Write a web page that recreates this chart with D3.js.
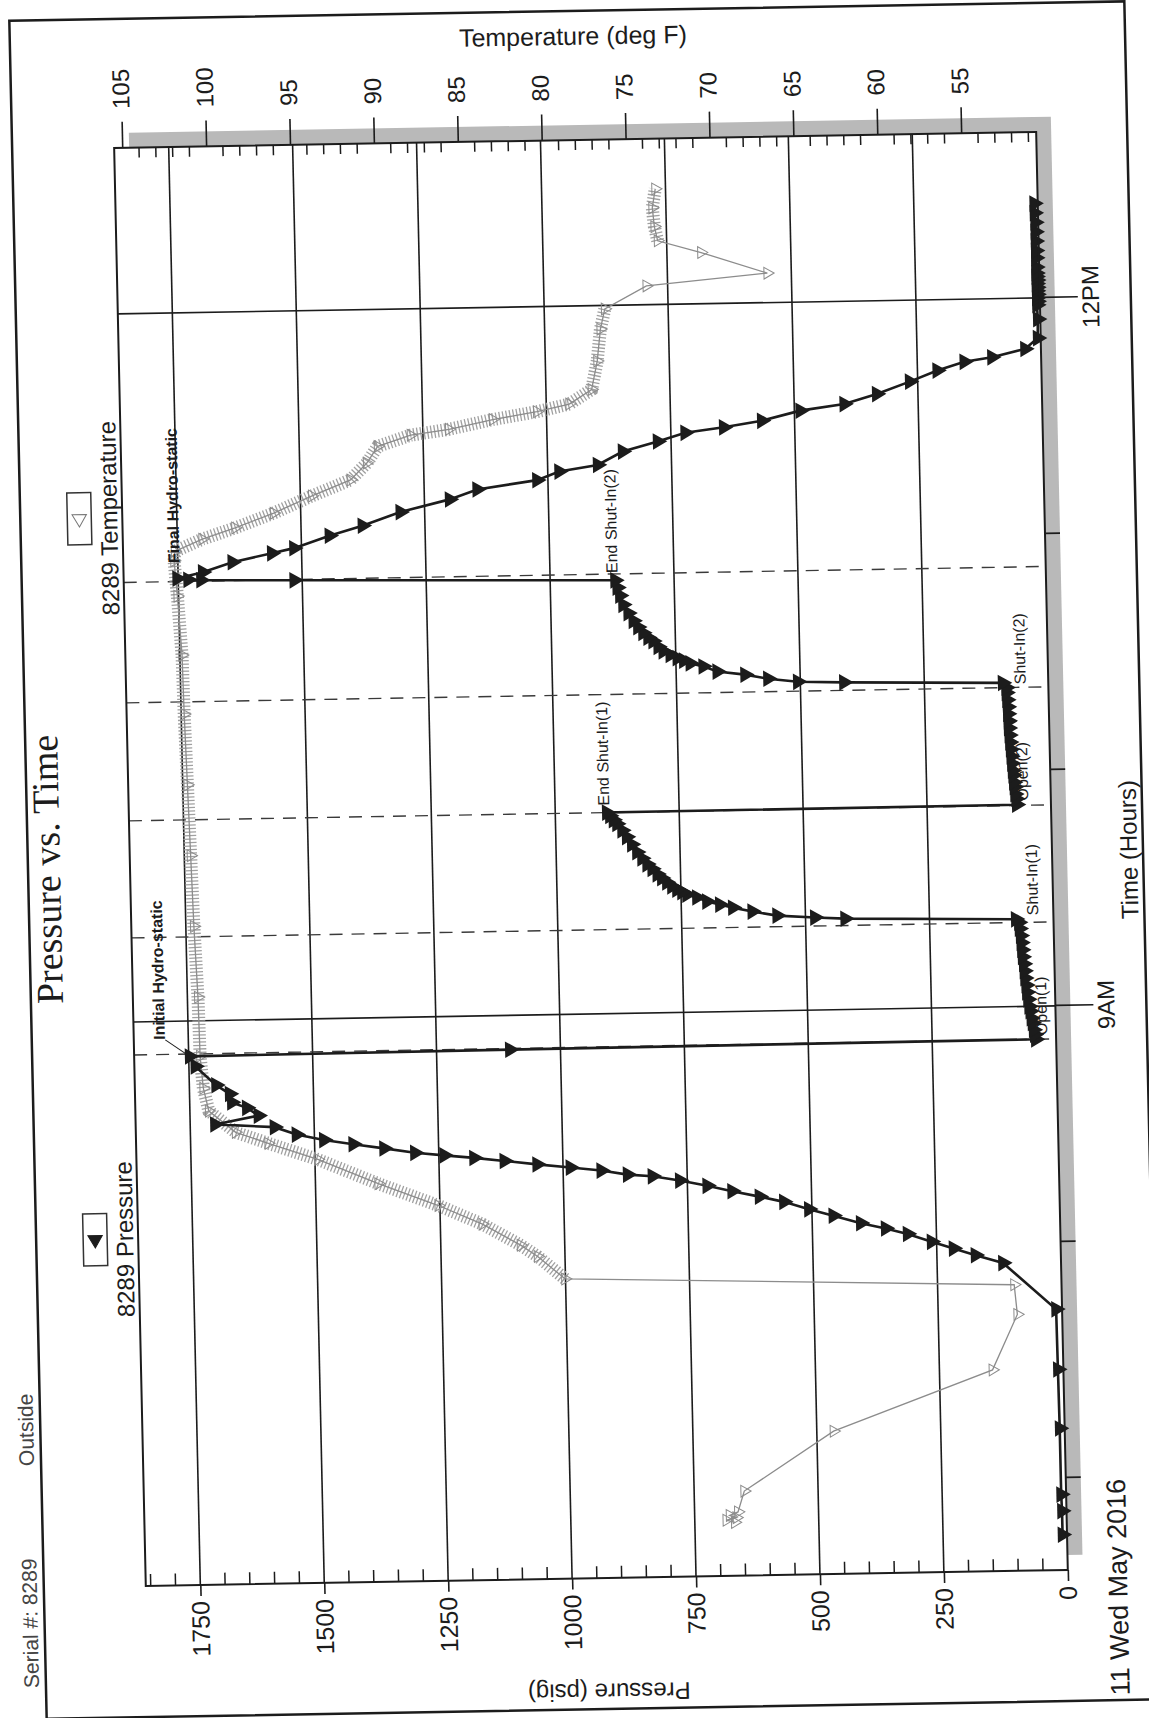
<!DOCTYPE html>
<html>
<head>
<meta charset="utf-8">
<script src="https://cdn.jsdelivr.net/npm/d3@7"></script>
<style>
  html, body { margin: 0; padding: 0; background: #fff; }
  svg { display: block; }
  text { font-family: 'Liberation Sans', Arial, sans-serif; fill: #1c1c1c; }
</style>
</head>
<body>
<div id="chart"></div>
<script>
// ---- data ----
// time in decimal hours of 11 May 2016, pressure in psig
const pressureTime = [
  6.76, 6.86, 6.93, 7.21, 7.46, 7.715,
  7.915, 7.95, 7.98, 8.01, 8.045, 8.07, 8.094, 8.128, 8.157, 8.19, 8.214, 8.239, 8.264, 8.288,
  8.308, 8.317, 8.336, 8.351, 8.367, 8.384, 8.399, 8.412, 8.425, 8.446, 8.466, 8.486, 8.511, 8.544,
  8.56, 8.594, 8.628, 8.652, 8.688, 8.726, 8.807, 8.85, 8.855,
  8.86, 8.88, 8.90, 8.93, 8.95, 8.98, 9.00, 9.03, 9.06, 9.09, 9.12, 9.15, 9.18, 9.21, 9.24, 9.27,
  9.30, 9.33, 9.356, 9.37,
  9.385, 9.392, 9.403, 9.422, 9.44, 9.454, 9.468, 9.486, 9.499, 9.51, 9.521, 9.535, 9.552, 9.57,
  9.587, 9.61, 9.63, 9.655, 9.682, 9.715, 9.747, 9.775, 9.803, 9.82, 9.838, 9.852,
  9.855, 9.88, 9.90, 9.93, 9.95, 9.98, 10.0, 10.03, 10.06, 10.09, 10.12, 10.15, 10.18, 10.21,
  10.24, 10.27, 10.30, 10.33, 10.352, 10.372,
  10.386, 10.392, 10.407, 10.426, 10.441, 10.464, 10.478, 10.49, 10.501, 10.515, 10.531, 10.55,
  10.575, 10.59, 10.61, 10.635, 10.662, 10.695, 10.731, 10.77, 10.804, 10.835, 10.859, 10.866,
  10.869, 10.875, 10.90, 10.94, 10.975, 10.995, 11.045, 11.085, 11.14, 11.19, 11.23, 11.265, 11.30,
  11.325, 11.38, 11.42, 11.455, 11.475, 11.50, 11.54, 11.565, 11.605, 11.655, 11.70, 11.735,
  11.752, 11.785, 11.83, 11.91, 11.97,
  11.985, 12.0, 12.015, 12.03, 12.045, 12.06, 12.075, 12.09, 12.105, 12.13, 12.17, 12.20, 12.24,
  12.28, 12.32, 12.36, 12.40, 12.44, 12.47
];
const pressurePsig = [
  9, 9, 10, 10, 11, 12,
  117, 172, 216, 260, 308, 352, 402, 457, 506, 556, 605, 660, 710, 765,
  820, 870, 923, 985, 1052, 1118, 1179, 1239, 1298, 1360, 1422, 1481, 1536, 1580,
  1700, 1612, 1635, 1665, 1669, 1696, 1737, 1748, 1102,
  41, 43, 45, 47, 49, 51, 53, 55, 57, 58, 60, 61, 62, 64, 65, 66,
  67, 69, 70, 76,
  420, 481, 557, 607, 646, 672, 698, 718, 738, 748, 758, 768, 778, 788,
  797, 807, 817, 827, 837, 847, 857, 866, 876, 883, 890, 896,
  69, 70, 72, 73, 74, 75, 76, 77, 78, 79, 80, 81, 82, 82,
  83, 83, 84, 85, 85, 92,
  412, 505, 565, 611, 667, 695, 721, 734, 747, 761, 775, 785,
  795, 805, 815, 825, 834, 844, 854, 860, 865, 869,
  1516, 1704, 1730, 1752, 1700, 1640, 1560, 1515, 1443, 1376, 1299, 1199, 1143,
  1022, 977, 899, 848, 777, 721, 643, 566, 488, 399, 333, 266,
  210, 155, 99, 32, 6,
  5, 6, 5, 6, 5, 6, 5, 6, 5, 6, 6, 6, 6,
  6, 6, 6, 6, 7, 7
];

// temperature in deg F
const tempTime = [
  6.836, 6.846, 6.856, 6.866, 6.88, 6.968, 7.215, 7.463, 7.696, 7.822,
  7.88, 7.977, 8.026, 8.118, 8.2, 8.297, 8.404, 8.476, 8.525, 8.617, 8.714,
  8.85, 9.1, 9.4, 9.7, 10.0, 10.3, 10.55, 10.8, 10.95,
  10.99, 11.04, 11.085, 11.145, 11.215, 11.28, 11.35, 11.42, 11.465, 11.487, 11.525, 11.555, 11.585,
  11.645, 11.765, 11.9, 11.985, 12.08, 12.125, 12.217, 12.27, 12.33, 12.41, 12.49
];
const tempDegF = [
  70.3, 70.8, 70.2, 70.6, 70.1, 69.7, 64.3, 54.75, 53.2, 53.35,
  80.1, 81.7, 82.7, 84.95, 87.55, 91.1, 94.67, 97.6, 99.53, 101.1, 101.4,
  101.55, 101.6, 101.75, 101.85, 101.95, 102.05, 102.1, 102.3, 102.45,
  102.4, 100.74, 98.77, 96.45, 94.15, 91.83, 90.84, 90.17, 88.19, 85.9, 83.28, 80.64, 78.7,
  77.35, 76.98, 76.75, 76.46, 73.95, 66.73, 70.65, 73.22, 73.4, 73.5, 73.3
];
// stretches where the recorder printed a marker on nearly every sample
const tempDenseSpans = [[7.88, 11.99], [12.22, 12.49]];

// test events (dashed markers) and their annotations
const eventTimes = [8.86, 9.356, 9.852, 10.352, 10.862];
const eventLabels = ['Initial Hydro-static', 'Open(1)', 'Shut-In(1)', 'End Shut-In(1)', 'Open(2)',
  'Shut-In(2)', 'End Shut-In(2)', 'Final Hydro-static'];
const eventLabelTime = [8.85, 8.86, 9.356, 9.852, 9.855, 10.352, 10.866, 10.94];
const eventLabelPsig = [1748, 41, 70, 896, 69, 85, 871, 1752];

// axes
const timeDomain = [6.61, 12.703];
const timeMajor = [9, 12];
const timeMajorLabels = ['9AM', '12PM'];
const timeMinor = [7, 8, 10, 11];
const dateLabel = '11 Wed May 2016';
const pressureDomain = [0, 1860];
const pressureTicks = [0, 250, 500, 750, 1000, 1250, 1500, 1750];
const tempDomain = [50.53, 105.48];
const tempTicks = [55, 60, 65, 70, 75, 80, 85, 90, 95, 100, 105];
const seriesNames = ['8289 Pressure', '8289 Temperature'];

// ---- drawing ----
const width = 1149, height = 1718;
// plot box in the unrotated frame (time runs left to right)
const plot = {left: 140, right: 1578, top: 130, bottom: 1052};
const ink = '#1c1c1c';
const serif = "'Liberation Serif', 'Times New Roman', serif";

const svg = d3.select('#chart').append('svg').attr('width', width).attr('height', height);
svg.append('rect').attr('width', width).attr('height', height).attr('fill', '#fff');

// the sheet went through the scanner slightly crooked
const sheet = svg.append('g')
  .attr('transform', 'translate(590,860) matrix(1,-0.0174,0.022,1,0,0) translate(-590,-860)');

sheet.append('rect')
  .attr('x', 28).attr('y', 11).attr('width', 1115).attr('height', 1698)
  .attr('fill', 'none').attr('stroke', ink).attr('stroke-width', 2.5);

// the chart is printed sideways
const g = sheet.append('g').attr('transform', `translate(0,${height}) rotate(-90)`);

// header text along the page edge
g.append('text').attr('x', 40).attr('y', 21).attr('font-size', 21).style('fill', '#444').text('Serial #:  8289');
g.append('text').attr('x', 262).attr('y', 21).attr('font-size', 21).style('fill', '#444').text('Outside');

const x = d3.scaleLinear().domain(timeDomain).range([plot.left, plot.right]);
const y = d3.scaleLinear().domain(pressureDomain).range([plot.bottom, plot.top]);
const yT = d3.scaleLinear().domain(tempDomain).range([plot.bottom, plot.top]);

const pw = plot.right - plot.left, ph = plot.bottom - plot.top;
g.append('rect').attr('x', plot.left + 15).attr('y', plot.top + 15)
  .attr('width', pw).attr('height', ph).attr('fill', '#b9b9b9');
g.append('rect').attr('x', plot.left).attr('y', plot.top)
  .attr('width', pw).attr('height', ph).attr('fill', '#fff');

// grid
g.append('g').selectAll('line').data(pressureTicks.filter(d => d > 0)).join('line')
  .attr('x1', plot.left).attr('x2', plot.right)
  .attr('y1', d => y(d)).attr('y2', d => y(d))
  .attr('stroke', ink).attr('stroke-width', 1.6);
g.append('g').selectAll('line').data(timeMajor).join('line')
  .attr('x1', d => x(d)).attr('x2', d => x(d))
  .attr('y1', plot.top).attr('y2', plot.bottom)
  .attr('stroke', ink).attr('stroke-width', 1.6);
g.append('g').selectAll('line').data(eventTimes).join('line')
  .attr('x1', d => x(d)).attr('x2', d => x(d))
  .attr('y1', plot.top).attr('y2', plot.bottom)
  .attr('stroke', '#3a3a3a').attr('stroke-width', 1.4).attr('stroke-dasharray', '13,9');

// temperature trace
const temp = tempTime.map((t, i) => [t, tempDegF[i]]);
const tLine = d3.line().x(d => x(d[0])).y(d => yT(d[1]));
tempDenseSpans.forEach(([a, b]) => {
  g.append('path').datum(temp.filter(d => d[0] >= a && d[0] <= b))
    .attr('d', tLine).attr('fill', 'none')
    .attr('stroke', '#a0a0a0').attr('stroke-width', 13).attr('stroke-dasharray', '1.3,2.2');
});
g.append('path').datum(temp).attr('d', tLine).attr('fill', 'none')
  .attr('stroke', '#8c8c8c').attr('stroke-width', 1.3);
g.append('g').selectAll('path').data(temp).join('path')
  .attr('d', d3.symbol(d3.symbolTriangle, 60))
  .attr('transform', d => `translate(${x(d[0])},${yT(d[1])}) rotate(180)`)
  .attr('fill', 'none').attr('stroke', '#8c8c8c').attr('stroke-width', 1);

// event annotations (drawn under the pressure markers, as on the print)
const labelStyle = [
  {du: 17, dv: -30, bold: true, lead: true},
  {du: 4, dv: 6},
  {du: 7, dv: 14},
  {du: 7, dv: -3},
  {du: 4, dv: 6},
  {du: 3, dv: 14},
  {du: 0, dv: -2},
  {du: 0, dv: -3, bold: true}
];
eventLabels.forEach((name, i) => {
  const s = labelStyle[i];
  const u = x(eventLabelTime[i]), v = y(eventLabelPsig[i]);
  if (s.lead) {
    g.append('line').attr('x1', u).attr('y1', v).attr('x2', u + s.du).attr('y2', v + s.dv + 6)
      .attr('stroke', ink).attr('stroke-width', 1);
  }
  g.append('text').attr('x', u + s.du).attr('y', v + s.dv).attr('dy', '0.35em')
    .attr('font-size', 16).attr('font-weight', s.bold ? 'bold' : null)
    .text(name);
});

// pressure trace
const press = pressureTime.map((t, i) => [t, pressurePsig[i]]);
g.append('path').datum(press)
  .attr('d', d3.line().x(d => x(d[0])).y(d => y(d[1])))
  .attr('fill', 'none').attr('stroke', ink).attr('stroke-width', 2.6);
g.append('g').selectAll('path').data(press).join('path')
  .attr('d', d3.symbol(d3.symbolTriangle, 120))
  .attr('transform', d => `translate(${x(d[0])},${y(d[1])}) rotate(180)`)
  .attr('fill', ink);

// frame
g.append('rect').attr('x', plot.left).attr('y', plot.top)
  .attr('width', pw).attr('height', ph)
  .attr('fill', 'none').attr('stroke', ink).attr('stroke-width', 2);

function styleAxis(sel, size) {
  sel.select('.domain').remove();
  sel.selectAll('line').attr('stroke', ink).attr('stroke-width', 1.6);
  sel.selectAll('text').attr('font-size', size).attr('fill', ink);
}

const axP = g.append('g').attr('transform', `translate(${plot.left},0)`)
  .call(d3.axisLeft(y).tickValues(pressureTicks).tickSize(11).tickPadding(5).tickFormat(d3.format('d')));
styleAxis(axP, 25);
g.append('g').selectAll('line').data(d3.range(50, 1860, 50).filter(d => d % 250)).join('line')
  .attr('x1', plot.left).attr('x2', plot.left + 12)
  .attr('y1', d => y(d)).attr('y2', d => y(d))
  .attr('stroke', ink).attr('stroke-width', 1.5);

const axT = g.append('g').attr('transform', `translate(${plot.right},0)`)
  .call(d3.axisRight(yT).tickValues(tempTicks).tickSize(26).tickPadding(13));
styleAxis(axT, 24);
g.append('g').selectAll('line').data(d3.range(51, 106, 1).filter(d => d % 5)).join('line')
  .attr('x1', plot.right).attr('x2', plot.right - 10)
  .attr('y1', d => yT(d)).attr('y2', d => yT(d))
  .attr('stroke', ink).attr('stroke-width', 1.5);

const axX = g.append('g').attr('transform', `translate(0,${plot.bottom})`)
  .call(d3.axisBottom(x).tickValues(timeMajor).tickSize(38).tickPadding(4)
    .tickFormat((d, i) => timeMajorLabels[i]));
styleAxis(axX, 24);
const axXm = g.append('g').attr('transform', `translate(0,${plot.bottom})`)
  .call(d3.axisBottom(x).tickValues(timeMinor).tickSize(15).tickFormat(''));
styleAxis(axXm, 24);
g.append('text').attr('x', plot.left - 18).attr('y', plot.bottom + 40).attr('dy', '0.71em')
  .attr('text-anchor', 'middle').attr('font-size', 27).text(dateLabel);

// axis titles
g.append('text').attr('x', (plot.left + plot.right) / 2).attr('y', 1137)
  .attr('text-anchor', 'middle').attr('font-size', 24).text('Time (Hours)');
g.append('text').attr('transform', `translate(1682,${(plot.top + plot.bottom) / 2}) rotate(90)`)
  .attr('dy', '0.35em').attr('text-anchor', 'middle').attr('font-size', 25).text('Temperature (deg F)');
g.append('text').attr('transform', `translate(26,${(plot.top + plot.bottom) / 2}) rotate(-90)`)
  .attr('dy', '0.35em').attr('text-anchor', 'middle').attr('font-size', 24).text('Pressure (psig)');

g.append('text').attr('x', 858).attr('y', 60).attr('text-anchor', 'middle')
  .style('font-family', serif).attr('font-size', 38)
  .text('Pressure vs. Time');

// legend: symbol box above each series name
const legendAt = [487, 1208];
seriesNames.forEach((name, i) => {
  const u = legendAt[i];
  g.append('rect').attr('x', u - 26).attr('y', 75).attr('width', 52).attr('height', 24)
    .attr('fill', '#fff').attr('stroke', '#333').attr('stroke-width', 1.5);
  g.append('path').attr('d', d3.symbol(d3.symbolTriangle, 90))
    .attr('transform', `translate(${u},87) rotate(-90)`)
    .attr('fill', i === 0 ? ink : 'none').attr('stroke', i === 0 ? ink : '#777');
  g.append('text').attr('x', u).attr('y', 125).attr('text-anchor', 'middle')
    .attr('font-size', 24).text(name);
});
</script>
</body>
</html>
